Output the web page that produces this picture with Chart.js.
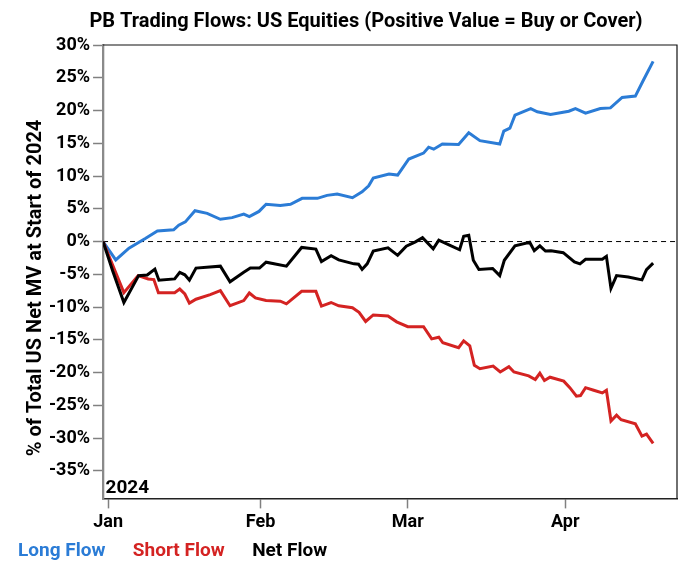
<!DOCTYPE html>
<html>
<head>
<meta charset="utf-8">
<script src="https://cdn.jsdelivr.net/npm/chart.js@4/dist/chart.umd.min.js"></script>
<style>
html,body{margin:0;padding:0;background:#fff;}
#wrap{width:691px;height:579px;}
</style>
</head>
<body>
<div id="wrap"><canvas id="c" width="691" height="579"></canvas></div>
<script>
// ---- text ----
const chartTitle = 'PB Trading Flows: US Equities (Positive Value = Buy or Cover)';
const yAxisTitle = '% of Total US Net MV at Start of 2024';
const yearLabel = '2024';
const seriesNames = ['Long Flow', 'Short Flow', 'Net Flow'];

// ---- axes ----
const monthTickDays = [1, 31, 60, 91];
const monthTickLabels = ['Jan', 'Feb', 'Mar', 'Apr'];
const yTickValues = [30, 25, 20, 15, 10, 5, 0, -5, -10, -15, -20, -25, -30, -35];

// ---- data (x = days since 1 Jan 2024, y = % of total US net MV) ----
const longDays = [0,2.5,5.1,8.4,10.7,13.9,14.9,16.2,18.1,20.5,23.1,25.4,27.7,28.8,30.7,32.1,34.9,36.9,39.2,42.2,44.1,46.1,49.1,51.0,52.3,53.2,56.3,58.0,60.2,63.1,64.1,65.1,66.8,70.0,72.0,74.2,78.1,78.9,80.1,81.1,84.2,85.5,88.1,91.7,93.0,95.0,97.9,99.9,102.2,104.8,106.3,108.3];
const longFlow = [0,-2.8,-1.0,0.5,1.6,1.8,2.5,3.0,4.7,4.3,3.4,3.65,4.2,3.8,4.6,5.7,5.5,5.7,6.6,6.6,7.05,7.25,6.7,7.6,8.5,9.7,10.3,10.15,12.6,13.5,14.4,14.1,14.9,14.8,16.6,15.4,14.9,16.85,17.3,19.3,20.3,19.8,19.4,19.9,20.3,19.6,20.3,20.4,22.0,22.2,24.5,27.5];

const shortDays = [0,4.1,6.9,8.9,10.0,10.9,14.1,15.1,16.1,17.0,18.3,21.1,23.1,25.0,27.7,28.8,30.0,32.1,34.9,36.1,39.1,41.9,43.0,44.9,46.4,49.1,50.4,51.7,53.2,56.1,57.8,60.0,63.1,64.7,66.1,66.9,70.0,71.0,72.2,73.1,74.2,76.8,78.2,79.9,80.9,83.8,85.1,86.0,86.9,88.0,90.7,91.9,93.2,94.0,95.0,96.6,98.3,99.1,100.0,101.1,102.0,104.8,106.1,107.0,108.3];
const shortFlow = [0,-7.8,-5.2,-5.7,-5.8,-7.8,-7.8,-7.25,-8.0,-9.4,-8.8,-8.1,-7.5,-9.8,-9.0,-7.85,-8.6,-9.0,-9.1,-9.5,-7.6,-7.6,-9.85,-9.3,-9.8,-10.1,-10.8,-12.2,-11.2,-11.35,-12.25,-13.0,-13.0,-14.85,-14.6,-15.45,-16.2,-15.15,-15.9,-18.9,-19.4,-19.0,-19.9,-19.1,-19.9,-20.5,-21.05,-20.1,-21.2,-20.7,-21.3,-22.3,-23.6,-23.5,-22.3,-22.7,-23.1,-22.7,-27.4,-26.5,-27.2,-27.8,-29.7,-29.4,-30.8];

const netDays = [0,1.9,4.1,7.0,8.7,10.2,11.0,14.1,15.1,16.1,17.0,18.3,23.1,25.0,27.7,29.0,30.8,32.1,36.1,39.1,41.9,43.0,44.9,46.4,49.4,50.3,51.0,52.0,53.2,56.1,58.0,59.7,61.5,62.9,65.0,66.1,68.1,70.2,71.0,72.0,72.9,74.0,76.7,78.1,79.0,81.1,84.0,84.9,86.0,87.1,88.2,90.6,92.8,93.9,95.0,98.3,99.1,100.0,101.1,103.4,106.1,107.0,108.3];
const netFlow = [0,-4.5,-9.3,-5.2,-5.1,-4.2,-5.9,-5.7,-4.7,-5.07,-5.9,-4.05,-3.75,-6.15,-4.7,-4.05,-4.05,-3.15,-3.75,-0.9,-1.15,-3.05,-2.15,-2.8,-3.4,-3.45,-4.25,-3.4,-1.45,-0.95,-2.1,-0.7,-0.05,0.6,-1.1,0.2,-0.5,-1.25,0.8,0.95,-2.85,-4.25,-4.1,-5.2,-2.85,-0.65,-0.1,-1.4,-0.65,-1.45,-1.4,-1.7,-3.1,-3.4,-2.7,-2.7,-2.25,-7.15,-5.2,-5.4,-5.85,-4.3,-3.3];

const seriesColors = ['#2b7cd6', '#d42322', '#000000'];

function pts(xs, ys) { return xs.map((x, i) => ({ x: x, y: ys[i] })); }

const FONT = 'Roboto';

const decor = {
  id: 'decor',
  beforeDatasetsDraw(chart) {
    const { ctx, chartArea: a, scales } = chart;
    const y0 = scales.y.getPixelForValue(0);
    ctx.save();
    ctx.strokeStyle = '#000';
    ctx.lineWidth = 1;
    ctx.setLineDash([5, 4]);
    ctx.beginPath();
    ctx.moveTo(a.left, y0);
    ctx.lineTo(a.right, y0);
    ctx.stroke();
    ctx.restore();
  },
  afterDraw(chart) {
    const { ctx, chartArea: a } = chart;
    ctx.save();
    // top and right frame
    ctx.strokeStyle = '#111';
    ctx.lineWidth = 1.2;
    ctx.beginPath();
    ctx.moveTo(a.left, a.top);
    ctx.lineTo(a.right, a.top);
    ctx.lineTo(a.right, a.bottom);
    ctx.stroke();
    // year label
    ctx.fillStyle = '#000';
    ctx.font = 'bold 19px ' + FONT;
    ctx.textAlign = 'left';
    ctx.textBaseline = 'alphabetic';
    ctx.fillText(yearLabel, a.left + 2.5, a.bottom - 5.5);
    // title
    ctx.font = 'bold 20px ' + FONT;
    ctx.textAlign = 'center';
    ctx.fillText(chartTitle, 366, 27);
    // y axis title (rotated)
    ctx.save();
    ctx.translate(40.5, 288);
    ctx.rotate(-Math.PI / 2);
    ctx.textAlign = 'center';
    ctx.textBaseline = 'alphabetic';
    ctx.font = 'bold 20px ' + FONT;
    ctx.fillText(yAxisTitle, 0, 0);
    ctx.restore();
    // legend
    ctx.font = 'bold 19px ' + FONT;
    ctx.textAlign = 'left';
    let x = 18;
    chart.data.datasets.forEach(ds => {
      ctx.fillStyle = ds.borderColor;
      ctx.fillText(ds.label, x, 556);
      x += ctx.measureText(ds.label).width + 27.5;
    });
    ctx.restore();
  }
};

new Chart(document.getElementById('c'), {
  type: 'line',
  data: {
    datasets: [
      { label: seriesNames[0], data: pts(longDays, longFlow), borderColor: seriesColors[0], order: 2 },
      { label: seriesNames[1], data: pts(shortDays, shortFlow), borderColor: seriesColors[1], order: 1 },
      { label: seriesNames[2], data: pts(netDays, netFlow), borderColor: seriesColors[2], order: 0 }
    ]
  },
  options: {
    responsive: false,
    animation: false,
    devicePixelRatio: 1,
    elements: {
      line: { borderWidth: 3, tension: 0, fill: false, borderJoinStyle: 'miter', borderCapStyle: 'butt' },
      point: { radius: 0, hoverRadius: 0 }
    },
    layout: { padding: { top: 45, left: 46, right: 14, bottom: 43 } },
    plugins: {
      legend: { display: false },
      title: { display: false },
      tooltip: { enabled: false }
    },
    scales: {
      x: {
        type: 'linear',
        min: 0,
        max: 113,
        afterBuildTicks: s => { s.ticks = monthTickDays.map(v => ({ value: v })); },
        ticks: {
          autoSkip: false,
          maxRotation: 0,
          padding: 3,
          color: '#000',
          font: { family: FONT, size: 18, weight: 'bold' },
          callback: v => { const i = monthTickDays.indexOf(v); return i >= 0 ? monthTickLabels[i] : ''; }
        },
        grid: { drawOnChartArea: false, drawTicks: true, tickLength: 10, tickColor: '#808080', tickWidth: 1.5 },
        border: { display: true, color: '#222', width: 1.5 }
      },
      y: {
        type: 'linear',
        min: -39.2,
        max: 30,
        afterBuildTicks: s => { s.ticks = yTickValues.map(v => ({ value: v })); },
        ticks: {
          padding: 3,
          color: '#000',
          font: { family: FONT, size: 18, weight: 'bold' },
          callback: v => v + '%'
        },
        grid: { drawOnChartArea: false, drawTicks: true, tickLength: 10, tickColor: '#808080', tickWidth: 1.5 },
        border: { display: true, color: '#8a8a8a', width: 2.3 },
        title: { display: false }
      }
    }
  },
  plugins: [decor]
});
</script>
</body>
</html>
